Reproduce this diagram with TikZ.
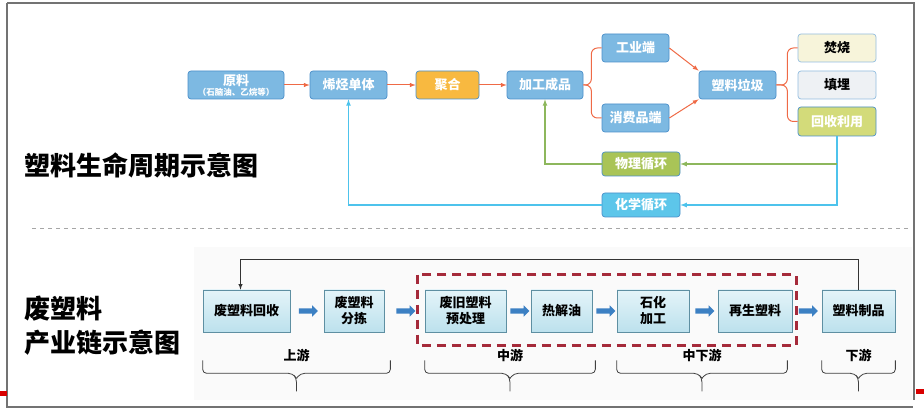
\documentclass[tikz,border=0pt]{standalone}
\usepackage{fontspec}
\setmainfont{Noto Sans CJK SC}
\usepackage{tikz}
\usetikzlibrary{arrows,shapes.arrows,positioning,shapes,calc}
\definecolor{boxblue}{HTML}{7DB9E2}
\definecolor{edgeblue}{HTML}{4A8FC9}
\definecolor{boxorange}{HTML}{F8B940}
\definecolor{boxcream}{HTML}{F7F4DA}
\definecolor{boxgrey}{HTML}{EEF1F4}
\definecolor{boxolive}{HTML}{D3DB7A}
\definecolor{boxgreen}{HTML}{A9C457}
\definecolor{boxcyan}{HTML}{5DC6EA}
\definecolor{linered}{HTML}{EF6A46}
\definecolor{linegreen}{HTML}{8DB75C}
\definecolor{linecyan}{HTML}{4DC3EC}
\definecolor{chainedge}{HTML}{5E8FA2}
\definecolor{chaintop}{HTML}{E4F4F9}
\definecolor{chainbot}{HTML}{BCE1ED}
\definecolor{arrowblue}{HTML}{3C80C3}
\definecolor{dashred}{HTML}{A52A3A}

\begin{document}
\begin{tikzpicture}[x = 1pt, y = -1pt,
  cyc/.style = {rectangle, rounded corners=3pt, draw=edgeblue, line width=0.7pt,
    fill=boxblue, text=white, inner sep=0pt, minimum height=28pt,
    font=\fontsize{13}{14}\selectfont\bfseries},
  chain/.style = {rectangle, draw=chainedge, line width=0.7pt, top color=chaintop,
    bottom color=chainbot, inner sep=0pt, minimum height=42pt, align=center,
    font=\fontsize{13}{16}\selectfont\bfseries},
  blk/.style = {single arrow, fill=arrowblue, inner sep=0pt, minimum height=19pt,
    single arrow head extend=3pt},
  brc/.style = {draw=black!75, line width=0.8pt, rounded corners=4pt},
  stage/.style = {font=\fontsize{13}{14}\selectfont\bfseries, inner sep=0pt}]

\useasboundingbox (0,0) rectangle (924,411);

% frame
\fill[black!2] (194,247) rectangle (912,400);
\draw[black!55, line width=1.2pt] (7,3) -- (914,3) -- (914,400);
\draw[black!55, line width=1.2pt] (7,3) -- (7,407) -- (913,407);
\fill[red!85!black] (0,391) rectangle (7,396);
\fill[red!85!black] (916,389) rectangle (924,394);

% life cycle
\node[cyc, minimum width=96pt, align=center, font=\bfseries] (yuanliao) at (236, 85)
  {\fontsize{13}{13}\selectfont 原料\\[-2pt]\fontsize{8.5}{9}\selectfont（石脑油、乙烷等）};
\node[cyc, minimum width=77pt] (xiting) at (348.5, 85) {烯烃单体};
\node[cyc, minimum width=63pt, fill=boxorange] (juhe) at (447.5, 85) {聚合};
\node[cyc, minimum width=76pt] (jiagong) at (545, 85) {加工成品};
\node[cyc, minimum width=67pt] (gongye) at (635.5, 48) {工业端};
\node[cyc, minimum width=67pt] (xiaofei) at (635.5, 118) {消费品端};
\node[cyc, minimum width=77pt] (laji) at (737.5, 85) {塑料垃圾};
\node[cyc, minimum width=78pt, fill=boxcream, draw=edgeblue!60, text=black] (fenshao) at (837, 48) {焚烧};
\node[cyc, minimum width=78pt, fill=boxgrey, draw=edgeblue!60, text=black] (tianmai) at (837, 85) {填埋};
\node[cyc, minimum width=78pt, minimum height=29pt, fill=boxolive] (huishou) at (837, 121.5) {回收利用};
\node[cyc, minimum width=78pt, minimum height=24pt, fill=boxgreen] (wuli) at (641, 164) {物理循环};
\node[cyc, minimum width=78pt, minimum height=24pt, fill=boxcyan] (huaxue) at (641, 205) {化学循环};

\draw[->, >=latex, linered, line width=1pt] (yuanliao) -- (xiting);
\draw[->, >=latex, linered, line width=1pt] (xiting) -- (juhe);
\draw[->, >=latex, linered, line width=1pt] (juhe) -- (jiagong);
\draw[linered, line width=1pt, rounded corners=6pt] (jiagong.east) -- ++(8,0) |- (gongye.west);
\draw[linered, line width=1pt, rounded corners=6pt] (jiagong.east) -- ++(8,0) |- (xiaofei.west);
\draw[->, >=latex, linered, line width=1pt] (gongye.east) -- (laji.north west);
\draw[->, >=latex, linered, line width=1pt] (xiaofei.east) -- (laji.south west);
\draw[linered, line width=1pt, rounded corners=6pt] (laji.east) -- ++(11,0) |- (fenshao.west);
\draw[linered, line width=1pt, rounded corners=6pt] (laji.east) -- ++(11,0) |- (huishou.west);

\coordinate (fork) at (huishou.south |- wuli);
\draw[->, >=latex, linecyan, line width=1.2pt] (huishou.south) -- (huishou.south |- huaxue) -- (huaxue.east);
\draw[->, >=latex, linecyan, line width=1.2pt] (huaxue.west) -| (xiting.south);
\draw[->, >=latex, linegreen, line width=1.2pt] (fork) -- (wuli.east);
\draw[->, >=latex, linegreen, line width=1.2pt] (wuli.west) -| (jiagong.south);

\node[anchor=west, inner sep=0pt, font=\fontsize{26}{28}\selectfont\bfseries] (title1) at (24, 165) {塑料生命周期示意图};

\draw[black!35, line width=0.8pt, dash pattern=on 4pt off 4pt] (32, 228) -- (910, 228);

% industry chain
\node[anchor=west, inner sep=0pt, align=left, font=\fontsize{26}{34}\selectfont\bfseries] (title2) at (24, 326) {废塑料\\产业链示意图};

\node[chain, minimum width=87pt] (hsh) at (246.5, 311) {废塑料回收};
\node[chain, minimum width=60pt] (fj) at (354, 311) {废塑料\\分拣};
\node[chain, minimum width=81pt] (ycl) at (465.5, 311) {废旧塑料\\预处理};
\node[chain, minimum width=61pt] (rjy) at (561.5, 311) {热解油};
\node[chain, minimum width=72pt] (shjg) at (653, 311) {石化\\加工};
\node[chain, minimum width=74pt] (zssl) at (755, 311) {再生塑料};
\node[chain, minimum width=73pt] (slzp) at (858.5, 311) {塑料制品};

\node[blk] (a1) at ($(hsh.east)!.5!(fj.west)$) {\rule{0pt}{5pt}};
\node[blk] (a2) at ($(fj.east)!.5!(ycl.west)$) {\rule{0pt}{5pt}};
\node[blk] (a3) at ($(ycl.east)!.5!(rjy.west)$) {\rule{0pt}{5pt}};
\node[blk] (a4) at ($(rjy.east)!.5!(shjg.west)$) {\rule{0pt}{5pt}};
\node[blk] (a5) at ($(shjg.east)!.5!(zssl.west)$) {\rule{0pt}{5pt}};
\node[blk] (a6) at ($(zssl.east)!.5!(slzp.west)$) {\rule{0pt}{5pt}};

\draw[dashred, line width=2.6pt, dash pattern=on 9pt off 6pt]
  ($(ycl.north west)+(-7,-15)$) rectangle ($(zssl.south east)+(4,13)$);

\draw[->, >=latex, black!80, line width=0.9pt] (slzp.north) -- ++(0,-30) -| ($(hsh.north)+(-6,0)$);

\coordinate (b1l) at ($(hsh.south west)+(0,28)$);
\coordinate (b1r) at ($(fj.south east)+(6,28)$);
\coordinate (b2l) at ($(ycl.south west)+(0,28)$);
\coordinate (b2r) at ($(rjy.south east)+(3,28)$);
\coordinate (b3l) at ($(shjg.south west)+(0,28)$);
\coordinate (b3r) at ($(zssl.south east)+(-5,28)$);
\coordinate (b4l) at ($(slzp.south west)+(0,28)$);
\coordinate (b4r) at ($(slzp.south east)+(0,28)$);
\foreach \l/\r in {b1l/b1r, b2l/b2r, b3l/b3r, b4l/b4r} {
  \draw[brc] (\l) -- ++(0,13) -- ($(\l)!.5!(\r)+(-4,13)$) -- ($(\l)!.5!(\r)+(0,18)$) -- ($(\l)!.5!(\r)+(0,31)$);
  \draw[brc] (\r) -- ++(0,13) -- ($(\l)!.5!(\r)+(4,13)$) -- ($(\l)!.5!(\r)+(0,18)$);
}

\node[stage] (up) at ($(b1l)!.5!(b1r)+(0,-5)$) {上游};
\node[stage] (mid) at ($(b2l)!.5!(b2r)+(0,-5)$) {中游};
\node[stage] (midlow) at ($(b3l)!.5!(b3r)+(0,-5)$) {中下游};
\node[stage] (low) at ($(b4l)!.5!(b4r)+(0,-5)$) {下游};

\end{tikzpicture}
\end{document}
